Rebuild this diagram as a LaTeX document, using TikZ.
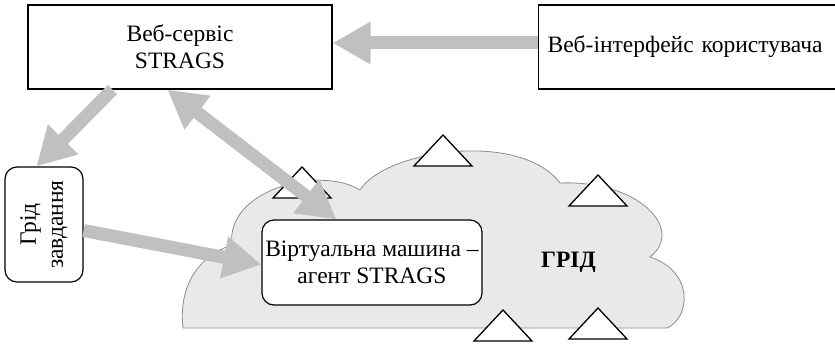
\documentclass[tikz,border=0pt]{standalone}
\usepackage{fontspec}
\setmainfont{Liberation Serif}
\usepackage{graphicx}
\usetikzlibrary{arrows.meta,positioning}

\definecolor{arrowgray}{HTML}{C0C0C0}
\definecolor{cloudgray}{HTML}{E9E9E9}
\definecolor{cloudline}{HTML}{8C8C8C}

\tikzset{
  block/.style={draw, line width=1.2pt, align=center, inner sep=0pt},
  roundblock/.style={block, rounded corners=12pt},
  bigarrow/.style={draw=arrowgray, line width=13pt, -{Triangle[length=38pt,width=40pt]}},
  tri/.style={draw, fill=white, line width=1.3pt},
}

\begin{document}
\begin{tikzpicture}[x=1pt, y=-1pt, font=\fontsize{23.5}{27}\selectfont]
  \useasboundingbox (0,0) rectangle (835,344);
  \draw[draw=cloudline, fill=cloudgray, line width=0.8pt]
    (183,328) .. controls (178,285) and (200,255) .. (232,245)
    .. controls (225,190) and (320,165) .. (360,190)
    .. controls (385,150) and (520,130) .. (560,183)
    .. controls (640,180) and (685,230) .. (650,257)
    .. controls (695,272) and (690,318) .. (667,328) -- cycle;
  \foreach \x/\y in {443/135, 302/167, 598/175, 503/310, 598/308}
    \draw[tri] (\x,\y) -- ++(-29,31) -- ++(58,0) -- cycle;

  \node[block, minimum width=304pt, minimum height=84pt] (svc) at (180,47) {Веб-сервіс\\STRAGS};
  \node[block, anchor=west, minimum height=84pt, text width=290pt, align=left, inner xsep=9pt] (iface) at (538,47) {Веб-інтерфейс користувача};
  \node[roundblock, minimum width=78pt, minimum height=115pt] (task) at (44,224.5)
    {\rotatebox{90}{\begin{tabular}{@{}c@{}}Грід\\завдання\end{tabular}}};
  \node[roundblock, fill=white, minimum width=220pt, minimum height=85pt] (vm) at (372,262.5) {Віртуальна машина --\\агент STRAGS};
  \node[right=55pt of vm] (grid) {\bfseries ГРІД};

  \draw[bigarrow] ([yshift=4pt]iface.west) -- ([yshift=4pt]svc.east);
  \draw[bigarrow] ([xshift=85pt]svc.south west) -- ([xshift=32pt]task.north west);
  \draw[bigarrow, {Triangle[length=38pt,width=40pt]}-{Triangle[length=38pt,width=40pt]}] ([xshift=140pt]svc.south west) -- ([xshift=75pt]vm.north west);
  \draw[bigarrow] ([yshift=-6pt]task.east) -- ([yshift=-2pt]vm.west);
\end{tikzpicture}
\end{document}
